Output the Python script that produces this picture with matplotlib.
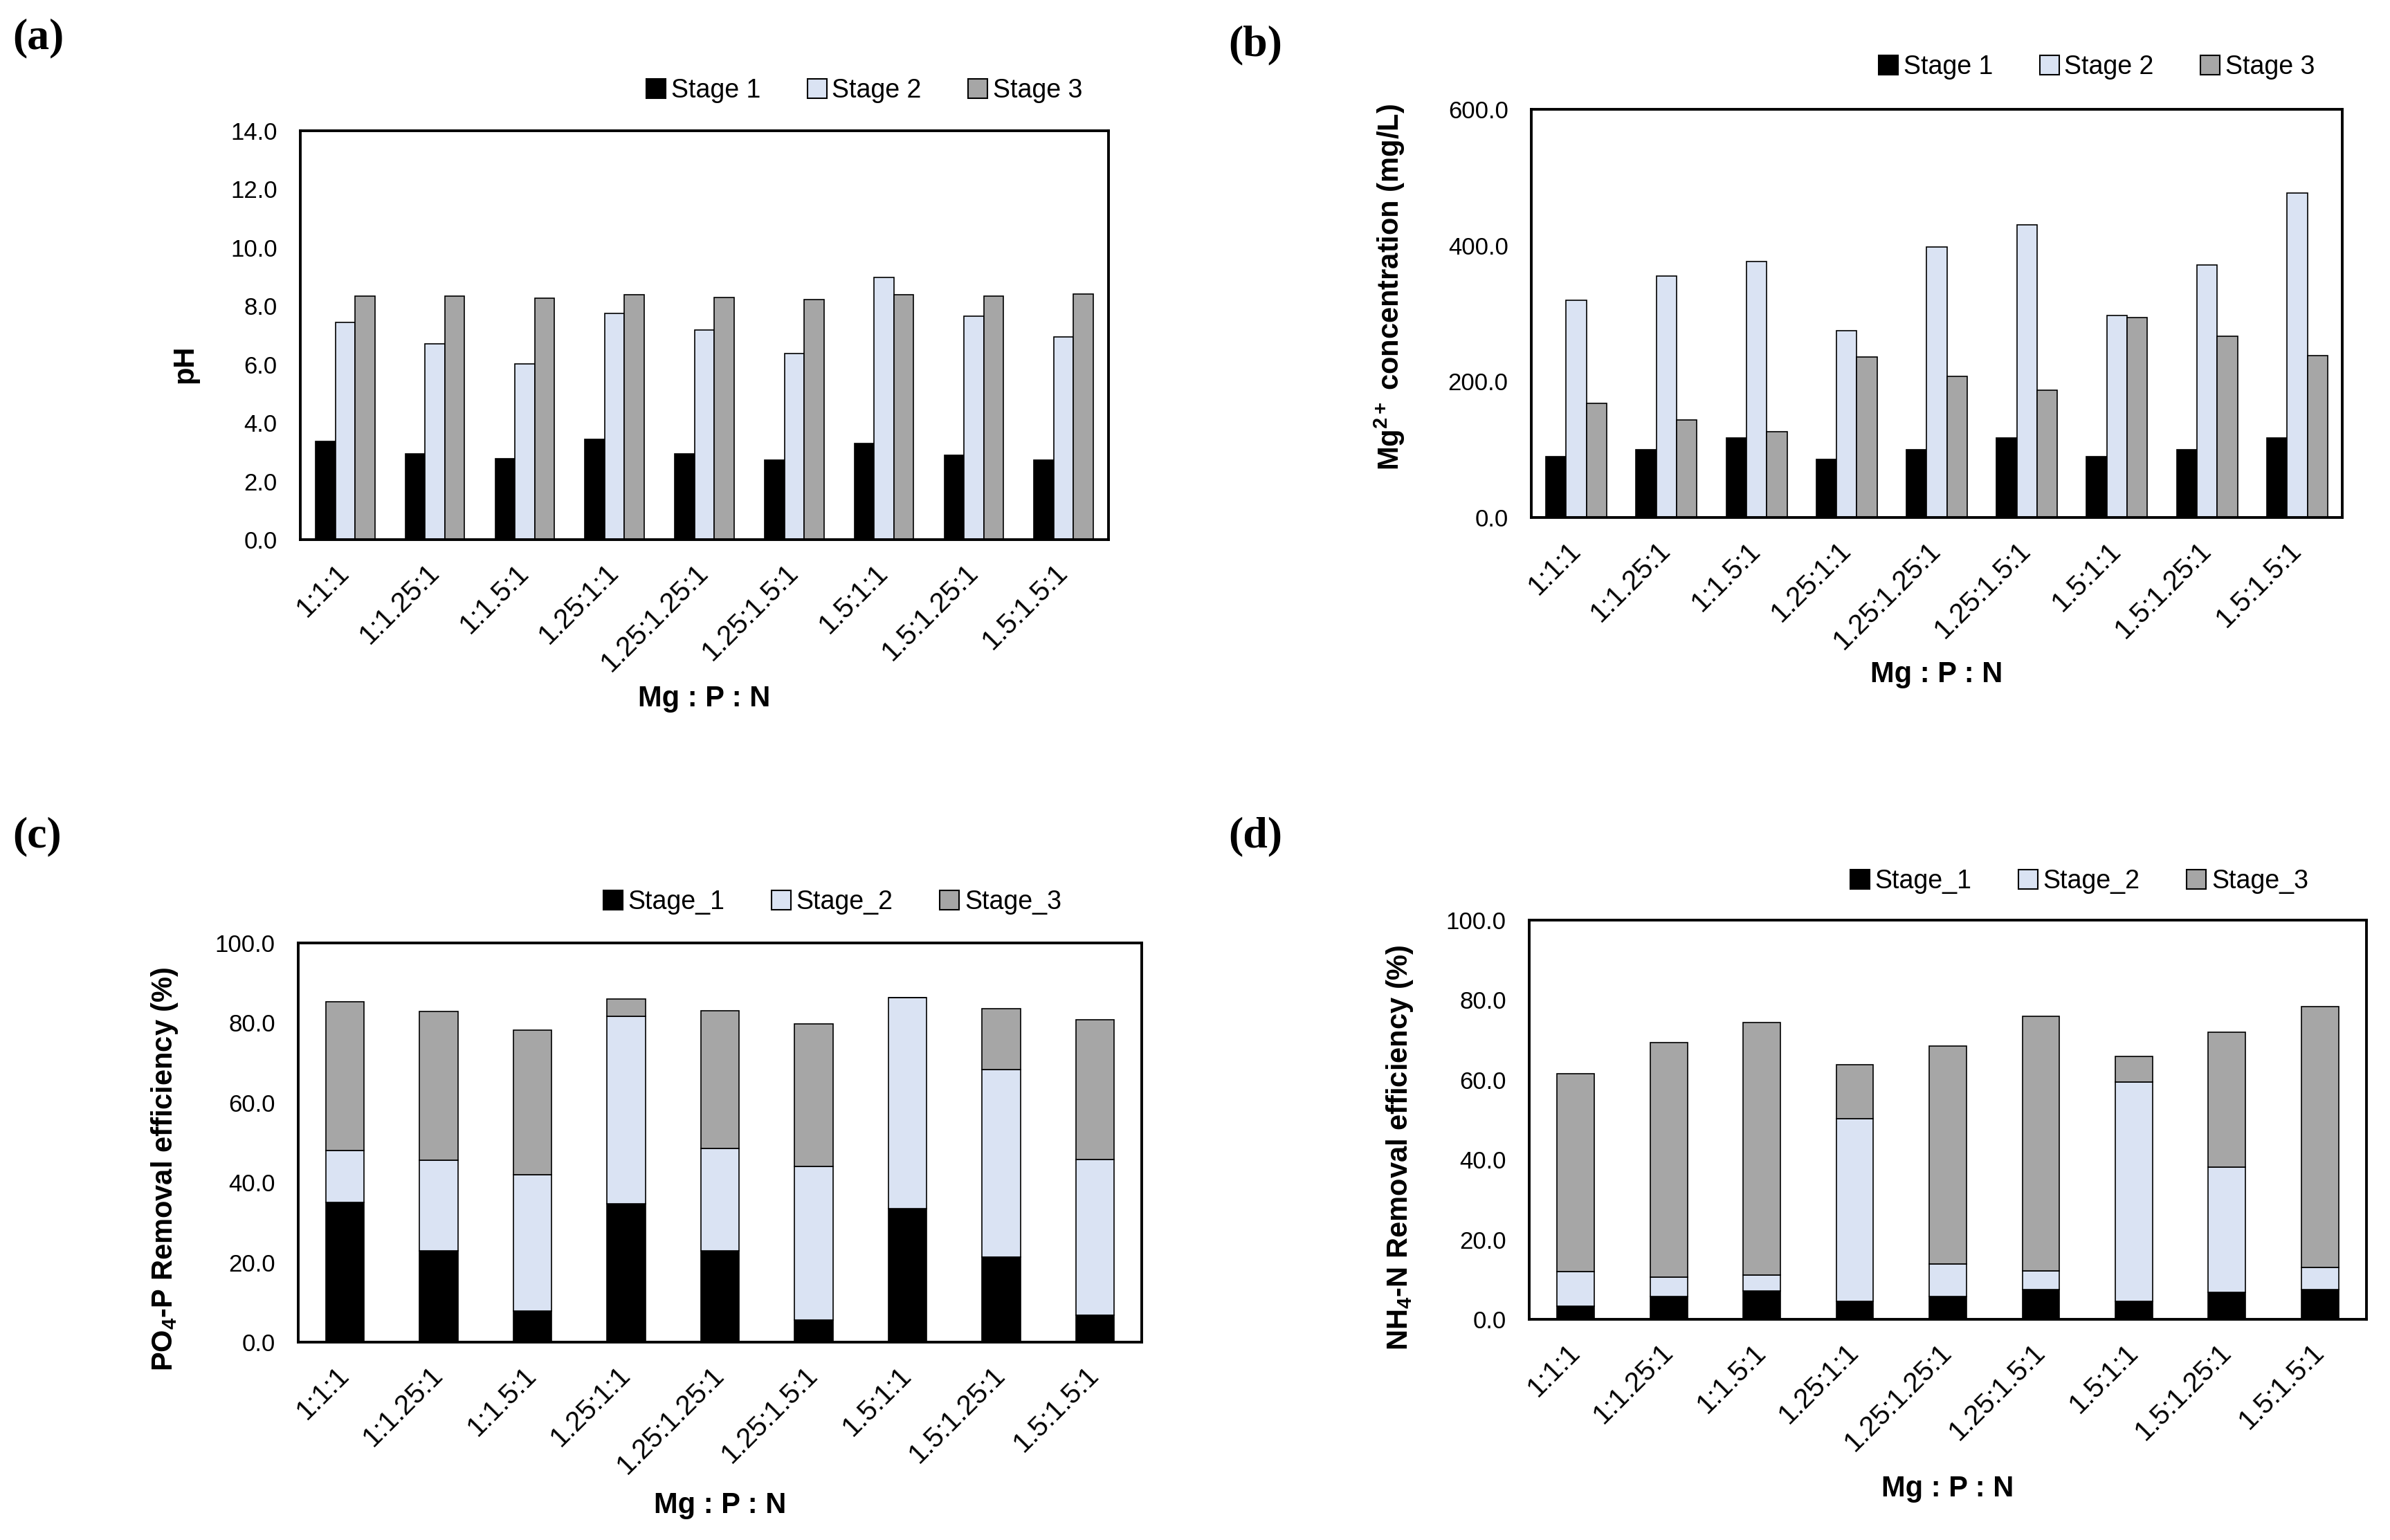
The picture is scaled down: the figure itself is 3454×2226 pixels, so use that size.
import matplotlib
matplotlib.use("Agg")
import matplotlib.pyplot as plt
from matplotlib.patches import Patch
import numpy as np

plt.rcParams['font.family'] = ['Liberation Sans', 'DejaVu Sans']
plt.rcParams['mathtext.fontset'] = 'custom'
plt.rcParams['mathtext.rm'] = 'Liberation Sans'
plt.rcParams['mathtext.bf'] = 'Liberation Sans:bold'
plt.rcParams['mathtext.it'] = 'Liberation Sans:italic'

categories = ['1:1:1', '1:1.25:1', '1:1.5:1', '1.25:1:1', '1.25:1.25:1',
              '1.25:1.5:1', '1.5:1:1', '1.5:1.25:1', '1.5:1.5:1']

ph_stage1 = [3.36, 2.94, 2.78, 3.44, 2.94, 2.73, 3.29, 2.88, 2.73]
ph_stage2 = [7.43, 6.70, 6.02, 7.75, 7.18, 6.37, 8.98, 7.65, 6.95]
ph_stage3 = [8.33, 8.35, 8.26, 8.38, 8.28, 8.23, 8.38, 8.35, 8.40]

mg_stage1 = [89, 100, 117, 85, 100, 117, 89, 100, 117]
mg_stage2 = [319, 355, 376, 275, 398, 430, 297, 371, 477]
mg_stage3 = [168, 143, 126, 236, 207, 187, 294, 266, 238]

po4_stage1 = [35.0, 22.8, 7.8, 34.7, 22.8, 5.6, 33.4, 21.3, 6.7]
po4_stage2 = [13.0, 22.8, 34.1, 47.0, 25.8, 38.5, 52.9, 46.9, 39.1]
po4_stage3 = [37.2, 37.2, 36.2, 4.3, 34.4, 35.7, 0.0, 15.3, 35.0]

nh4_stage1 = [3.3, 5.8, 7.1, 4.5, 5.8, 7.4, 4.5, 6.8, 7.4]
nh4_stage2 = [8.6, 4.7, 4.0, 45.8, 8.1, 4.7, 55.0, 31.4, 5.6]
nh4_stage3 = [49.6, 58.9, 63.3, 13.4, 54.6, 63.8, 6.3, 33.7, 65.4]

legend_ab = ['Stage 1', 'Stage 2', 'Stage 3']
legend_cd = ['Stage_1', 'Stage_2', 'Stage_3']

C1, C2, C3 = '#000000', '#DAE3F3', '#A6A6A6'
colors = [C1, C2, C3]

W, H = 3454, 2226
fig = plt.figure(figsize=(W / 100, H / 100), dpi=100)

def px_axes(l, t, r, b):
    return fig.add_axes([l / W, 1 - b / H, (r - l) / W, (b - t) / H])

ax_a = px_axes(434, 189, 1602, 780)
ax_b = px_axes(2213, 158, 3385, 748)
ax_c = px_axes(431, 1363, 1650, 1940)
ax_d = px_axes(2210, 1330, 3420, 1907)

TICK_FS = 25
XT_FS = 29
LAB_FS = 30
LEG_FS = 27

x = np.arange(len(categories))

def style(ax, ylim, step):
    ax.set_xlim(-0.5, len(categories) - 0.5)
    ax.set_ylim(0, ylim)
    ax.set_yticks(np.arange(0, ylim + step / 2, step))
    ax.set_yticklabels([f'{v:.1f}' for v in np.arange(0, ylim + step / 2, step)],
                       fontsize=TICK_FS)
    ax.set_xticks(x)
    ax.set_xticklabels(categories, rotation=45, ha='right', va='center',
                       rotation_mode='anchor', fontsize=XT_FS)
    ax.tick_params(axis='both', length=0)
    ax.tick_params(axis='y', pad=24)
    ax.tick_params(axis='x', pad=30)
    for s in ax.spines.values():
        s.set_linewidth(2.8)
        s.set_color('black')

def legend(ax, labels, cx, cy):
    handles = [Patch(facecolor=c, edgecolor='black', linewidth=1.5) for c in colors]
    fig.legend(handles, labels, loc='center', bbox_to_anchor=(cx / W, 1 - cy / H),
               ncol=3, frameon=False, fontsize=LEG_FS, handlelength=0.75,
               handleheight=0.75, handletextpad=0.2, columnspacing=1.8)

# (a) grouped pH
bw = 0.22
for i, (vals, c) in enumerate(zip([ph_stage1, ph_stage2, ph_stage3], colors)):
    ax_a.bar(x + (i - 1) * bw, vals, bw, color=c, edgecolor='black', linewidth=1.2, zorder=2)
style(ax_a, 14.0, 2.0)
ax_a.set_ylabel('pH', fontsize=LAB_FS, fontweight='bold')
ax_a.yaxis.set_label_coords(-0.126, 0.43)
ax_a.set_xlabel('Mg : P : N', fontsize=LAB_FS, fontweight='bold', va='center')
ax_a.xaxis.set_label_coords(0.5, -0.389)
legend(ax_a, legend_ab, 1249, 131)

# (b) grouped Mg2+
bw = 0.225
for i, (vals, c) in enumerate(zip([mg_stage1, mg_stage2, mg_stage3], colors)):
    ax_b.bar(x + (i - 1) * bw, vals, bw, color=c, edgecolor='black', linewidth=1.2, zorder=2)
style(ax_b, 600.0, 200.0)
ax_b.set_ylabel(r'Mg$^{\mathbf{2+}}$ concentration (mg/L)', fontsize=LAB_FS, fontweight='bold')
ax_b.yaxis.set_label_coords(-0.154, 0.565)
ax_b.set_xlabel('Mg : P : N', fontsize=LAB_FS, fontweight='bold', va='center')
ax_b.xaxis.set_label_coords(0.5, -0.385)
legend(ax_b, legend_ab, 3030, 97)

# (c) stacked PO4-P
def stacked(ax, s1, s2, s3, w):
    s1 = np.array(s1); s2 = np.array(s2); s3 = np.array(s3)
    ax.bar(x, s1, w, color=C1, edgecolor='black', linewidth=1.2, zorder=2)
    ax.bar(x, s2, w, bottom=s1, color=C2, edgecolor='black', linewidth=1.2, zorder=2)
    ax.bar(x, s3, w, bottom=s1 + s2, color=C3, edgecolor='black', linewidth=1.2, zorder=2)

stacked(ax_c, po4_stage1, po4_stage2, po4_stage3, 0.41)
style(ax_c, 100.0, 20.0)
ax_c.set_ylabel(r'PO$_{\mathbf{4}}$-P Removal efficiency (%)', fontsize=LAB_FS, fontweight='bold')
ax_c.yaxis.set_label_coords(-0.140, 0.433)
ax_c.set_xlabel('Mg : P : N', fontsize=LAB_FS, fontweight='bold', va='center')
ax_c.xaxis.set_label_coords(0.5, -0.409)
legend(ax_c, legend_cd, 1203, 1304)

# (d) stacked NH4-N
stacked(ax_d, nh4_stage1, nh4_stage2, nh4_stage3, 0.40)
style(ax_d, 100.0, 20.0)
ax_d.set_ylabel(r'NH$_{\mathbf{4}}$-N Removal efficiency (%)', fontsize=LAB_FS, fontweight='bold')
ax_d.yaxis.set_label_coords(-0.136, 0.43)
ax_d.set_xlabel('Mg : P : N', fontsize=LAB_FS, fontweight='bold', va='center')
ax_d.xaxis.set_label_coords(0.5, -0.425)
legend(ax_d, legend_cd, 3005, 1274)

# panel labels
for lab, px, py in [('(a)', 18, 26), ('(b)', 1775, 36), ('(c)', 18, 1180), ('(d)', 1775, 1180)]:
    fig.text(px / W, 1 - py / H, lab, fontsize=46, fontweight='bold',
             family=['Liberation Serif', 'DejaVu Serif'], ha='left', va='top')

fig.savefig('out.png', dpi=100, facecolor='white')
